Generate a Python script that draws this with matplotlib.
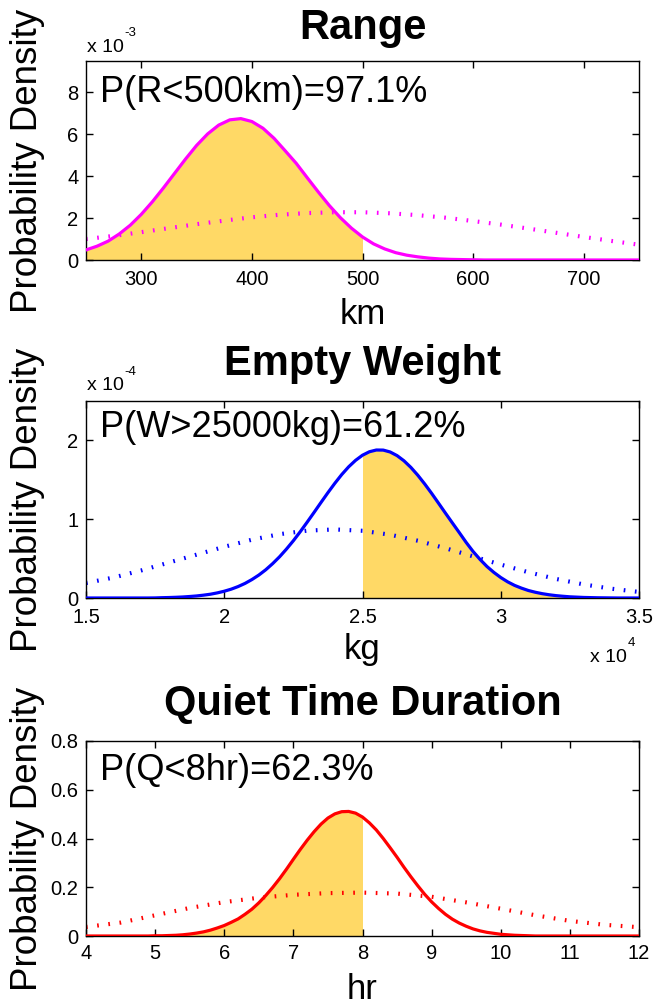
import numpy as np
import matplotlib
matplotlib.use("Agg")
import matplotlib.pyplot as plt

plt.rcParams['font.family'] = ['Liberation Sans', 'DejaVu Sans']

GOLD = '#FFD966'

# ---- Range: density in units of 1e-3 per km
range_x = np.arange(250, 751, 10)
range_pdf = [0.48, 0.66, 0.90, 1.24, 1.66, 2.18, 2.78, 3.44, 4.13, 4.82,
             5.47, 6.02, 6.44, 6.69, 6.75, 6.61, 6.29, 5.81, 5.22, 4.62,
             3.93, 3.25, 2.60, 2.02, 1.52, 1.10, 0.77, 0.53, 0.35, 0.23,
             0.15, 0.09, 0.05, 0.03, 0.02, 0.01, 0, 0, 0, 0,
             0, 0, 0, 0, 0, 0, 0, 0, 0, 0, 0]
range_wide_x = np.arange(250, 751, 25)
range_wide = [1.00, 1.15, 1.33, 1.52, 1.71, 1.88, 2.04, 2.16, 2.24, 2.28, 2.28,
              2.23, 2.14, 2.02, 1.86, 1.69, 1.50, 1.30, 1.10, 0.91, 0.73]
range_cut = 500
range_xticks = [300, 400, 500, 600, 700]
range_yticks = [0, 2, 4, 6, 8]

# ---- Empty weight: density in units of 1e-4 per kg
weight_x = np.arange(15000, 35001, 250)
weight_pdf = [0, 0, 0, 0, 0, 0, 0, 0,
              0, 0, 0.001, 0.004, 0.006, 0.009, 0.013, 0.019, 0.026, 0.036,
              0.048, 0.065, 0.086, 0.112, 0.145, 0.185, 0.234, 0.291, 0.358, 0.436,
              0.523, 0.621, 0.727, 0.842, 0.963, 1.087, 1.213, 1.337, 1.456, 1.567,
              1.665, 1.747, 1.812, 1.856, 1.878, 1.877, 1.853, 1.807, 1.741, 1.657,
              1.558, 1.447, 1.328, 1.203, 1.077, 0.953, 0.830, 0.705, 0.590, 0.490,
              0.400, 0.325, 0.260, 0.205, 0.160, 0.125, 0.095, 0.073, 0.055, 0.041,
              0.030, 0.022, 0.015, 0.011, 0.007, 0.005, 0.003, 0.002, 0.001, 0,
              0, 0, 0]
weight_wide_x = np.arange(15000, 35001, 1000)
weight_wide = [0.19, 0.26, 0.35, 0.45, 0.55, 0.65, 0.74, 0.81, 0.855, 0.87, 0.853,
               0.803, 0.727, 0.632, 0.528, 0.424, 0.327, 0.242, 0.172, 0.118, 0.077]
weight_cut = 25000
weight_xticks = [15000, 20000, 25000, 30000, 35000]
weight_xticklabels = ['1.5', '2', '2.5', '3', '3.5']
weight_yticks = [0, 1, 2]

# ---- Quiet time duration: density per hr
quiet_x = np.linspace(4, 12, 81)
quiet_pdf = [0, 0, 0, 0, 0, 0, 0, 0, 0, 0,
             0.001, 0.001, 0.002, 0.003, 0.005, 0.008, 0.012, 0.017, 0.024, 0.033,
             0.043, 0.056, 0.070, 0.089, 0.110, 0.136, 0.166, 0.199, 0.235, 0.274,
             0.315, 0.355, 0.393, 0.428, 0.459, 0.484, 0.501, 0.510, 0.511, 0.504,
             0.488, 0.464, 0.435, 0.400, 0.362, 0.323, 0.282, 0.243, 0.206, 0.171,
             0.140, 0.113, 0.089, 0.069, 0.053, 0.040, 0.029, 0.021, 0.015, 0.011,
             0.007, 0.005, 0.003, 0.002, 0.001,
             0, 0, 0, 0, 0, 0, 0, 0, 0, 0, 0, 0, 0, 0, 0, 0]
quiet_wide_x = np.linspace(4, 12, 17)
quiet_wide = [0.037, 0.055, 0.085, 0.115, 0.139, 0.157, 0.169, 0.176, 0.178,
              0.174, 0.161, 0.138, 0.112, 0.085, 0.062, 0.046, 0.036]
quiet_cut = 8
quiet_xticks = [4, 5, 6, 7, 8, 9, 10, 11, 12]
quiet_yticks = [0, 0.2, 0.4, 0.6, 0.8]
quiet_yticklabels = ['0', '0.2', '0.4', '0.6', '0.8']

W, H = 654, 1008
fig = plt.figure(figsize=(W / 100, H / 100), dpi=100)


def px_axes(left, top, right, bottom):
    return fig.add_axes([left / W, (H - bottom) / H, (right - left) / W, (bottom - top) / H])


def curves(ax, x, pdf, wx, wide, color, keep):
    ax.fill_between(x, 0, pdf, where=keep, color=GOLD, lw=0, zorder=1)
    ax.plot(wx, wide, color=color, lw=3.0, linestyle=(0, (0.4, 2.3)),
            dash_capstyle='butt', zorder=2)
    ax.plot(x, pdf, color=color, lw=2.3, solid_joinstyle='round', zorder=3)


def style(ax, title, title_y, label, label_y, xlabel, xlabel_y, xpad):
    ax.tick_params(direction='in', top=True, right=True, length=5, width=1,
                   labelsize=14.5, colors='black')
    ax.tick_params(axis='x', pad=xpad)
    ax.tick_params(axis='y', pad=5.5)
    for s in ax.spines.values():
        s.set_linewidth(1.0)
    ax.text(0.5, title_y, title, transform=ax.transAxes, ha='center', va='center',
            fontsize=30, fontweight='bold')
    ax.text(0.025, label_y, label, transform=ax.transAxes, ha='left', va='center',
            fontsize=26)
    ax.set_xlabel(xlabel, fontsize=25)
    ax.xaxis.set_label_coords(0.5, xlabel_y)
    ax.xaxis.label.set_va('center')
    ax.set_ylabel('Probability Density', fontsize=26.5)
    ax.yaxis.set_label_coords(-0.105, 0.5)
    ax.yaxis.label.set_va('center')


def exponent(ax, x, y, power):
    t = ax.text(x, y, 'x 10', transform=ax.transAxes, fontsize=14,
                ha='left', va='baseline')
    ax.annotate(power, xy=(1, 1), xycoords=t, xytext=(0.5, 4),
                textcoords='offset points', fontsize=9.5, ha='left', va='center')


# Range
ax1 = px_axes(86, 61, 639, 260)
x = range_x
curves(ax1, x, np.array(range_pdf) * 1e-3, range_wide_x, np.array(range_wide) * 1e-3,
       '#FF00FF', x <= range_cut)
ax1.set_xlim(250, 750)
ax1.set_ylim(0, 9.5e-3)
ax1.set_xticks(range_xticks)
ax1.set_yticks(np.array(range_yticks) * 1e-3)
ax1.set_yticklabels([str(v) for v in range_yticks])
style(ax1, 'Range', 1.166, 'P(R<500km)=97.1%', 0.842, 'km', -0.276, 7.5)
exponent(ax1, 0.002, 1.045, '-3')

# Empty weight
ax2 = px_axes(86, 401, 639, 598)
x = weight_x
curves(ax2, x, np.array(weight_pdf) * 1e-4, weight_wide_x, np.array(weight_wide) * 1e-4,
       '#0000FF', x >= weight_cut)
ax2.set_xlim(15000, 35000)
ax2.set_ylim(0, 2.5e-4)
ax2.set_xticks(weight_xticks)
ax2.set_xticklabels(weight_xticklabels)
ax2.set_yticks(np.array(weight_yticks) * 1e-4)
ax2.set_yticklabels([str(v) for v in weight_yticks])
style(ax2, 'Empty Weight', 1.188, 'P(W>25000kg)=61.2%', 0.863, 'kg', -0.26, 7)
exponent(ax2, 0.002, 1.055, '-4')
exponent(ax2, 0.912, -0.325, '4')

# Quiet time duration
ax3 = px_axes(86, 741, 639, 936)
x = quiet_x
curves(ax3, x, quiet_pdf, quiet_wide_x, quiet_wide, '#FF0000', x <= quiet_cut + 1e-9)
ax3.set_xlim(4, 12)
ax3.set_ylim(0, 0.8)
ax3.set_xticks(quiet_xticks)
ax3.set_yticks(quiet_yticks)
ax3.set_yticklabels(quiet_yticklabels)
style(ax3, 'Quiet Time Duration', 1.19, 'P(Q<8hr)=62.3%', 0.851, 'hr', -0.272, 6)

fig.savefig('out.png', dpi=100, facecolor='white')
